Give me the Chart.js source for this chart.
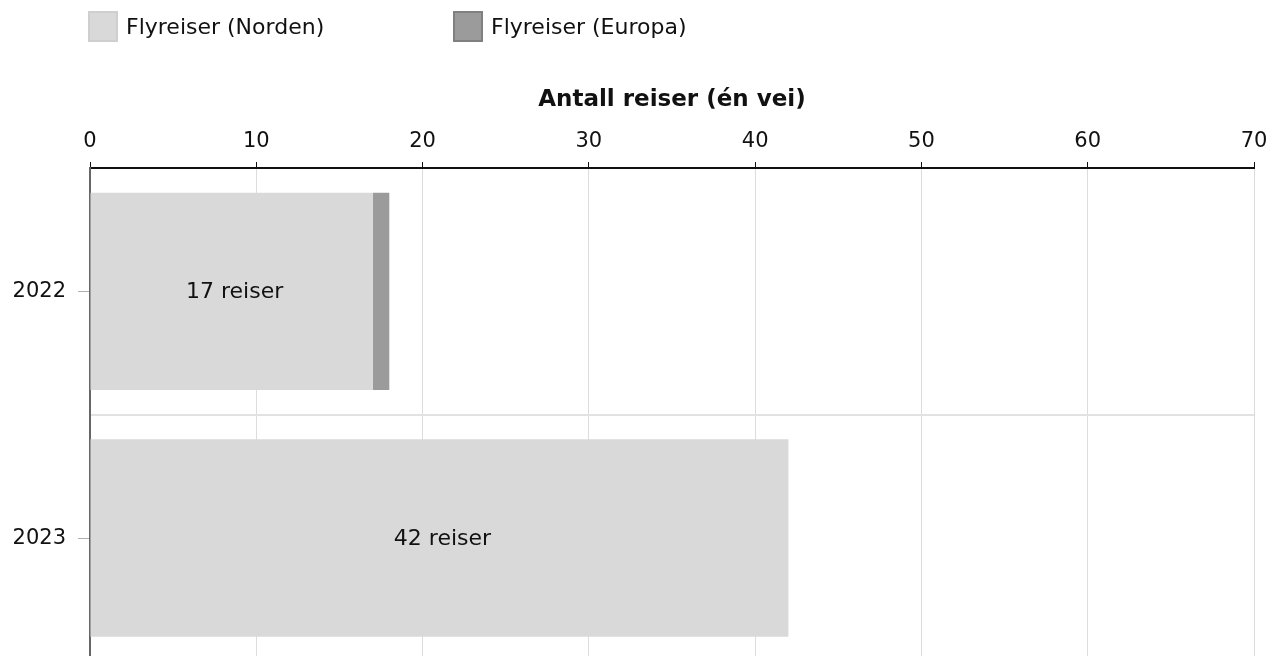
<!DOCTYPE html>
<html>
<head>
<meta charset="utf-8">
<script src="https://cdn.jsdelivr.net/npm/chart.js@4.4.1/dist/chart.umd.min.js"></script>
<style>
  html, body { margin: 0; padding: 0; background: #fff; overflow: hidden; }
  #wrap { position: relative; width: 1282px; height: 698px; }
  #myChart { display: block; width: 1282px; height: 698px; }
  #legend { position: absolute; left: 88px; top: 11px; font-family: "DejaVu Sans", Verdana, sans-serif; font-size: 22px; color: #111; }
  .item { position: absolute; top: 0; white-space: nowrap; display: flex; align-items: center; height: 31px; }
  .box { width: 30px; height: 31px; margin-right: 8px; box-sizing: border-box; border: 2px solid; }
</style>
</head>
<body>
<div id="wrap">
  <canvas id="myChart" width="1282" height="698"></canvas>
  <div id="legend"></div>
</div>
<script>
document.addEventListener('DOMContentLoaded', () => {
const years = ['2022', '2023'];
const seriesNames = ['Flyreiser (Norden)', 'Flyreiser (Europa)'];
const norden = [17, 42];
const europa = [1, 0];
const xTicks = [0, 10, 20, 30, 40, 50, 60, 70];

const fillColors = ['#d9d9d9', '#9b9b9b'];
const boxBorders = ['#cfcfcf', '#808080'];
const fontFam = '"DejaVu Sans", Verdana, sans-serif';

// legend as html, placed like the original
const legend = document.getElementById('legend');
const legendX = [0, 365];
seriesNames.forEach((name, i) => {
    const it = document.createElement('div');
    it.className = 'item';
    it.style.left = legendX[i] + 'px';
    it.innerHTML = '<span class="box" style="background:' + fillColors[i] + ';border-color:' + boxBorders[i] + '"></span>' + name;
    legend.appendChild(it);
});

// bar labels + small y tick marks
const extras = {
    id: 'extras',
    afterDatasetsDraw(chart) {
        const c = chart.ctx;
        const meta = chart.getDatasetMeta(0);
        c.save();
        c.font = '22px ' + fontFam;
        c.fillStyle = '#111';
        c.textAlign = 'center';
        c.textBaseline = 'middle';
        meta.data.forEach((bar, i) => {
            const x = (bar.base + bar.x) / 2 + 3;
            c.fillText(norden[i] + ' reiser', x, bar.y + 1);
        });
        const y = chart.scales.y;
        c.strokeStyle = '#b0b0b0';
        c.lineWidth = 1;
        years.forEach((_, i) => {
            const py = Math.round(y.getPixelForValue(i)) + 0.5;
            c.beginPath();
            c.moveTo(y.right - 12, py);
            c.lineTo(y.right - 1, py);
            c.stroke();
        });
        c.restore();
    }
};

const ctx = document.getElementById('myChart').getContext('2d');
new Chart(ctx, {
    type: 'bar',
    data: {
        labels: years,
        datasets: [
            { label: seriesNames[0], data: norden, backgroundColor: fillColors[0], barPercentage: 0.8, categoryPercentage: 1 },
            { label: seriesNames[1], data: europa, backgroundColor: fillColors[1], barPercentage: 0.8, categoryPercentage: 1 }
        ]
    },
    options: {
        indexAxis: 'y',
        responsive: false,
        maintainAspectRatio: false,
        animation: false,
        layout: { padding: { top: 86, right: 28, left: 0, bottom: 0 } },
        plugins: { legend: { display: false }, tooltip: { enabled: false } },
        scales: {
            x: {
                position: 'top',
                stacked: true,
                min: 0, max: 70,
                afterBuildTicks(scale) { scale.ticks = xTicks.map(v => ({ value: v })); },
                afterFit(scale) { scale.height = 82; },
                ticks: { font: { size: 21, family: fontFam }, color: '#111', padding: 8 },
                grid: { color: '#dcdcdc', tickColor: '#111', tickLength: 6, lineWidth: 1 },
                border: { color: '#111', width: 2 },
                title: { display: true, text: 'Antall reiser (én vei)', font: { size: 23, weight: 'bold', family: fontFam }, color: '#111', padding: { top: 0, bottom: 10 } }
            },
            y: {
                stacked: true,
                afterFit(scale) { scale.width = 90; },
                ticks: { font: { size: 21, family: fontFam }, color: '#111', padding: 24 },
                grid: { offset: true, drawTicks: false, color: '#e2e2e2', lineWidth: 2 },
                border: { color: '#666', width: 2 }
            }
        }
    },
    plugins: [extras]
});
});
</script>
</body>
</html>
